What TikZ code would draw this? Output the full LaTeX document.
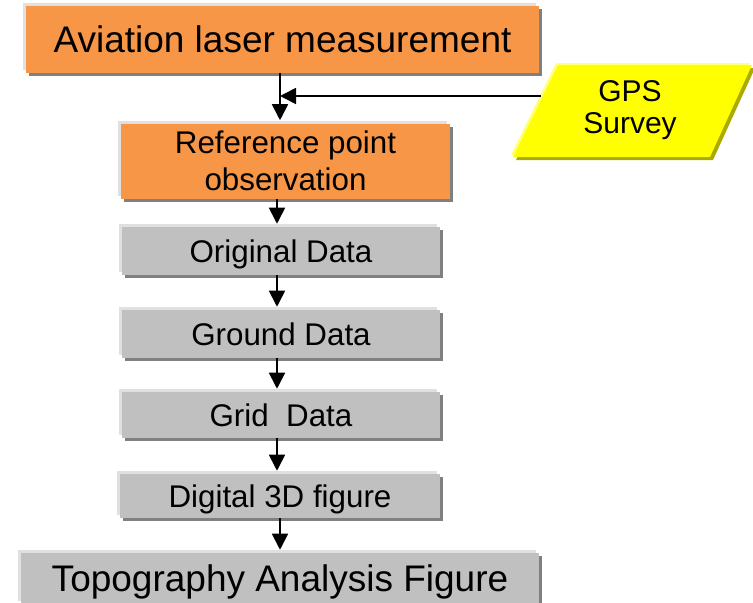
\documentclass[tikz,border=0pt]{standalone}
\usepackage{fontspec}
\setmainfont{Liberation Sans}
\usetikzlibrary{arrows.meta,shadows}

\definecolor{boxorange}{RGB}{247,150,70}
\definecolor{boxgray}{RGB}{192,192,192}
\definecolor{shadegray}{RGB}{128,128,128}
\definecolor{hilite}{RGB}{224,224,224}
\definecolor{gpsyellow}{RGB}{255,255,0}
\definecolor{gpsshade}{RGB}{170,170,0}
\definecolor{gpslight}{RGB}{255,255,128}

\tikzset{
  bevel/.style={rectangle, inner sep=0pt, align=center,
    drop shadow={shadow xshift=2.25pt, shadow yshift=-2.25pt, fill=shadegray, opacity=1},
    drop shadow={shadow xshift=-2.25pt, shadow yshift=2.25pt, fill=hilite, opacity=1}},
  bigbox/.style={bevel, font=\fontsize{27.75}{33}\selectfont, text height=20pt, text depth=0pt},
  midbox/.style={bevel, font=\fontsize{23.5}{27.75}\selectfont},
  onerow/.style={text height=16.9pt, text depth=0pt},
  flowarrow/.style={line width=1.3pt, -{Triangle[length=12pt, width=12pt]}, shorten >=2.25pt}
}

\begin{document}
\begin{tikzpicture}[x=0.75pt,y=0.75pt,yscale=-1,xscale=1]
\useasboundingbox (0,0) rectangle (753,603);
\clip (0,0) rectangle (753,603);

%Boxes
\node [bigbox, fill=boxorange, minimum width=384.75pt, minimum height=50.25pt] (laser) at (282.5,39.5) {Aviation laser measurement};
\node [midbox, fill=boxorange, minimum width=246.75pt, minimum height=56.25pt] (refpt) at (285.5,161) {Reference point\\observation};
\node [midbox, onerow, fill=boxgray, minimum width=238.5pt, minimum height=36pt] (orig) at (281,251) {Original Data};
\node [midbox, onerow, fill=boxgray, minimum width=238.5pt, minimum height=36pt] (ground) at (281,334) {Ground Data};
\node [midbox, onerow, fill=boxgray, minimum width=238.5pt, minimum height=34.5pt] (grid) at (281,415) {Grid\ \ Data};
\node [midbox, onerow, fill=boxgray, minimum width=240pt, minimum height=33pt] (digital) at (280,496) {Digital 3D figure};
\node [bigbox, fill=boxgray, minimum width=388.5pt, minimum height=38.25pt] (topo) at (280,578.5) {Topography Analysis Figure};

%Parallelogram
\fill [gpsshade, shift={(3,3)}] (558,65) -- (752,65) -- (710,157) -- (513,157) -- cycle;
\fill [gpslight, shift={(-2,-2)}] (558,65) -- (752,65) -- (710,157) -- (513,157) -- cycle;
\fill [gpsyellow] (558,65) -- (752,65) -- (710,157) -- (513,157) -- cycle;
% Text Node
\node [align=center, font=\fontsize{22.5}{24}\selectfont] (gps) at (630,110) {GPS\\Survey};

%Straight Lines
\coordinate (axisA) at (280,0);
\coordinate (axisB) at (277,0);
\coordinate (gpsin) at (541,96);
\draw [flowarrow] (laser.south -| axisA) -- (refpt.north -| axisA);
\draw [flowarrow, shorten >=0pt] (gpsin) -- (gpsin -| axisA);
\draw [flowarrow] (refpt.south -| axisB) -- (orig.north -| axisB);
\draw [flowarrow] (orig.south -| axisB) -- (ground.north -| axisB);
\draw [flowarrow] (ground.south -| axisB) -- (grid.north -| axisB);
\draw [flowarrow] (grid.south -| axisB) -- (digital.north -| axisB);
\draw [flowarrow] (digital.south -| axisA) -- (topo.north -| axisA);

\end{tikzpicture}
\end{document}
